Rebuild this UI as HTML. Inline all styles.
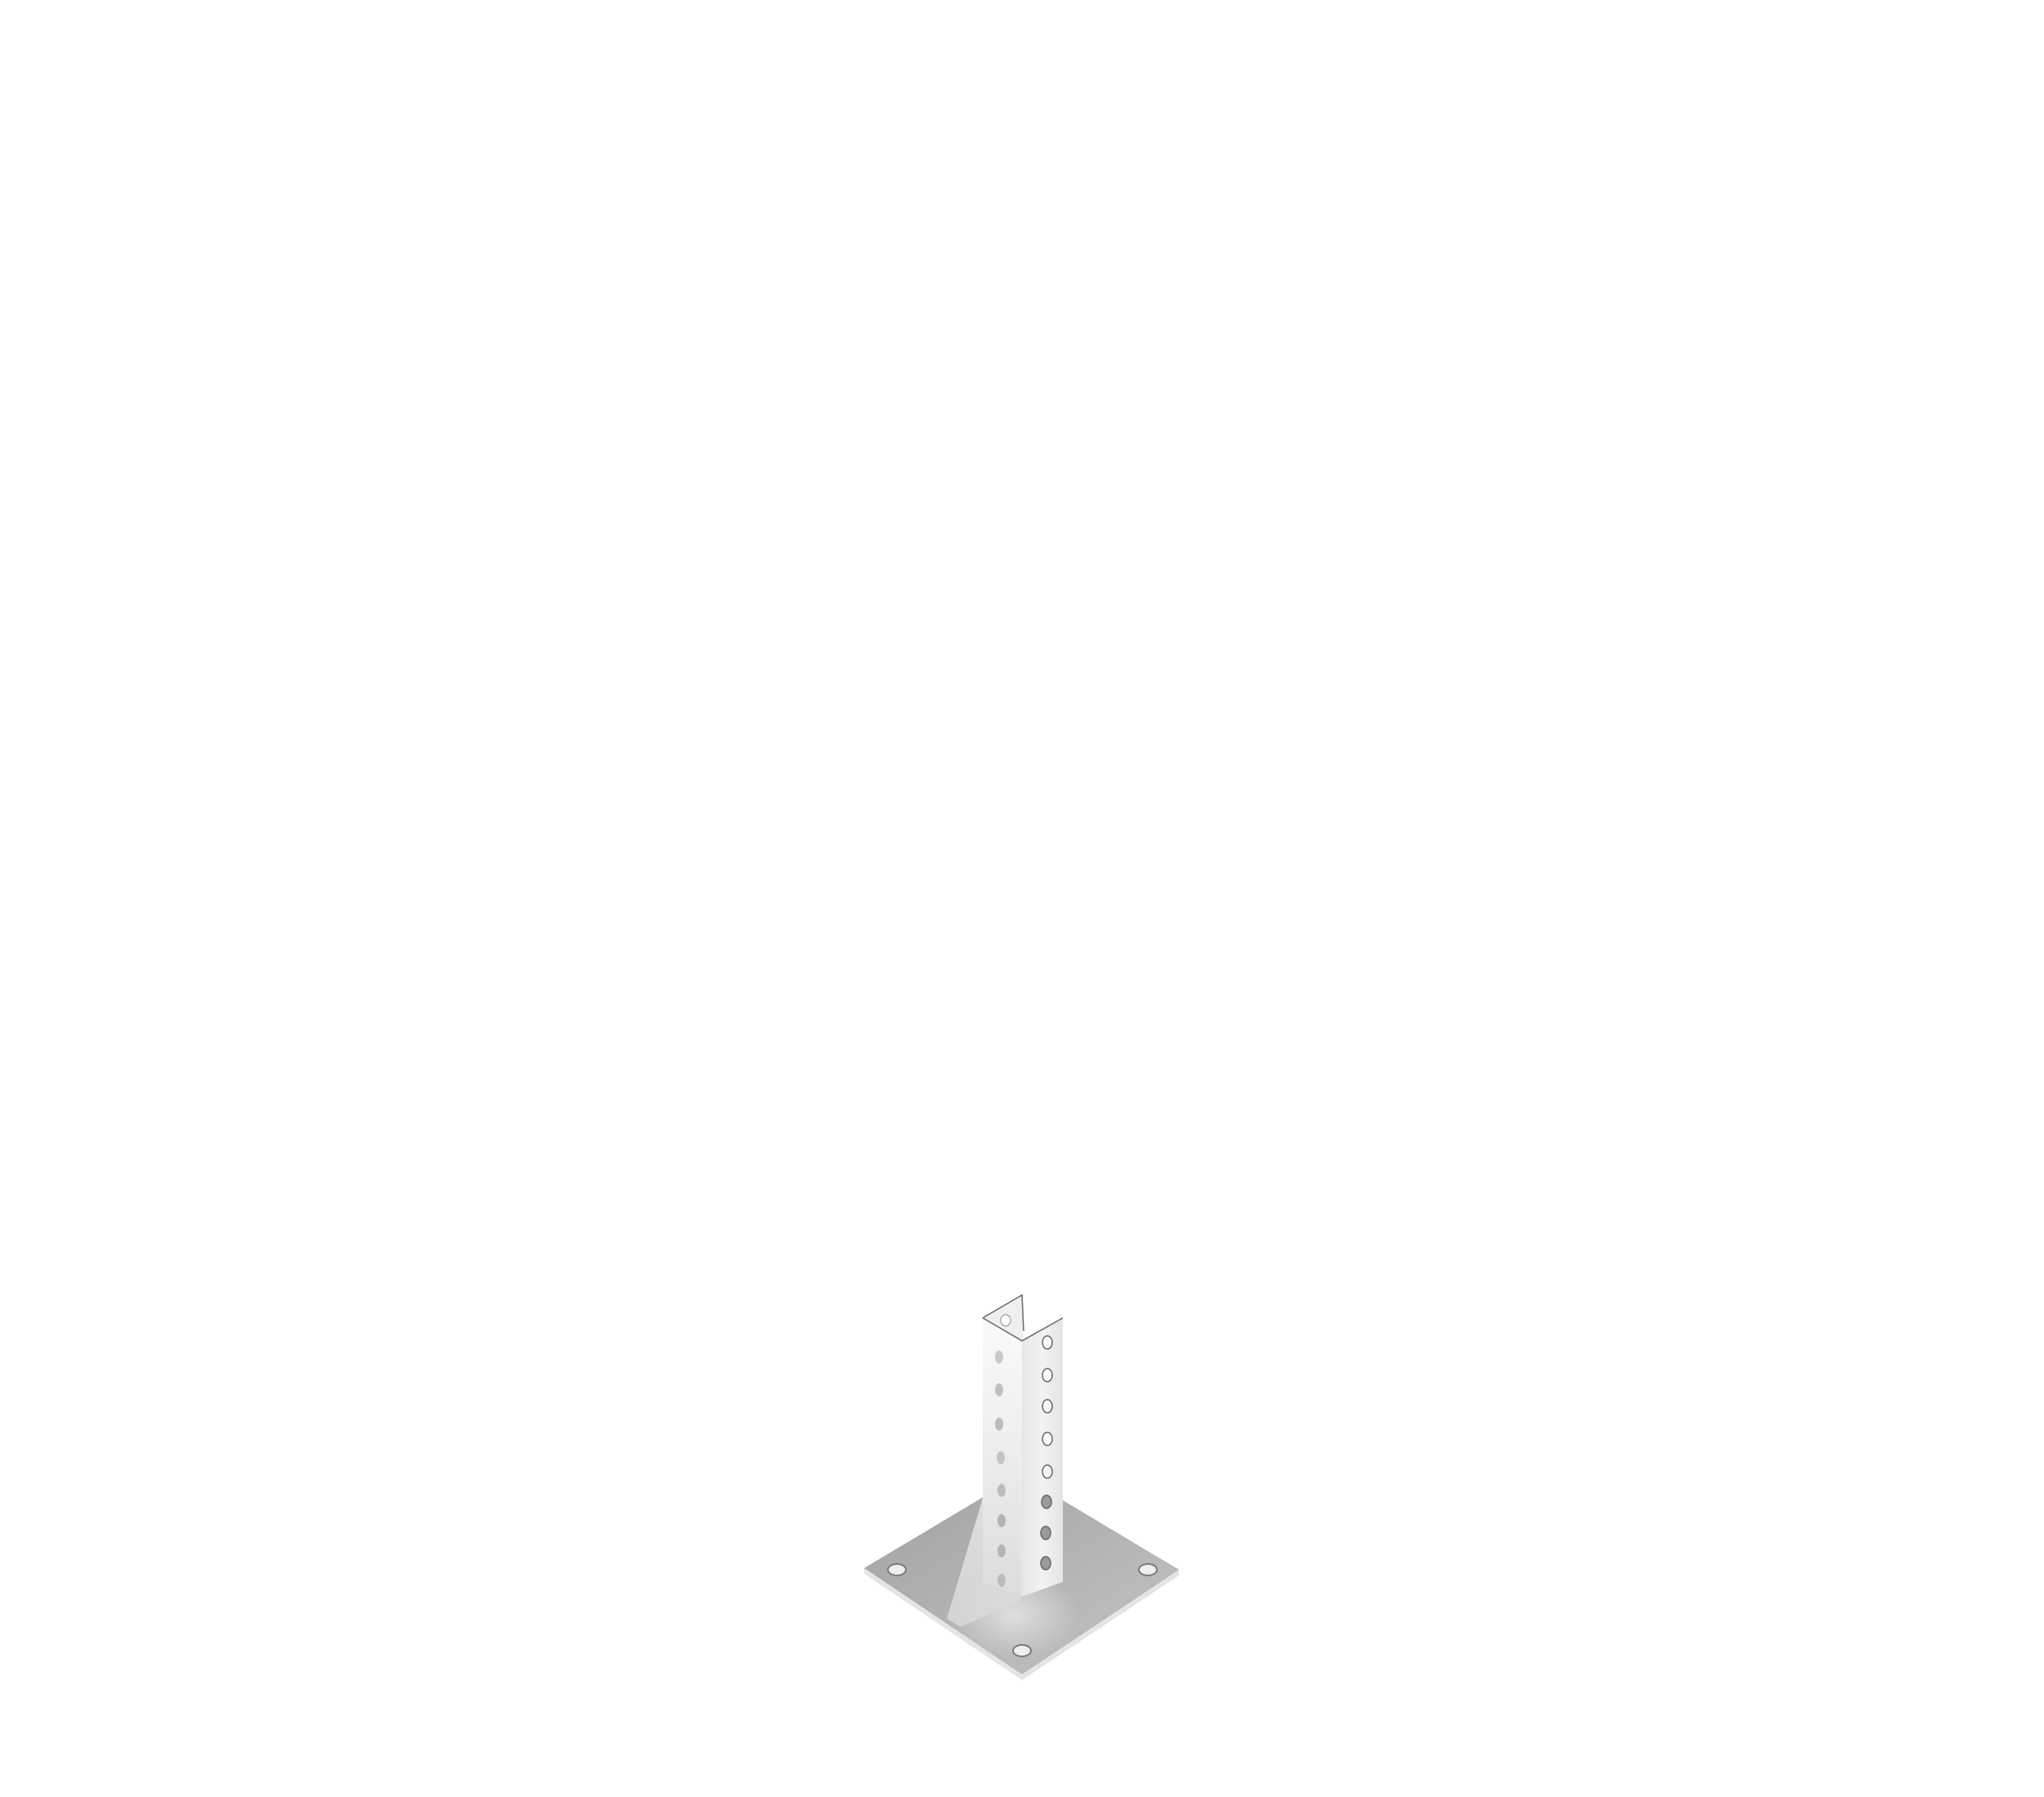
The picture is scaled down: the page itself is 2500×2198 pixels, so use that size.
<!DOCTYPE html>
<html><head><meta charset="utf-8"><style>
html,body{margin:0;padding:0;background:#fff;}
svg{display:block}
</style></head><body>
<svg width="2500" height="2198" viewBox="0 0 2500 2198" xmlns="http://www.w3.org/2000/svg">
<defs>
<linearGradient id="plate" x1="0" y1="0" x2="1" y2="1">
<stop offset="0" stop-color="#a2a2a2"/><stop offset="0.5" stop-color="#b2b2b2"/><stop offset="1" stop-color="#c4c4c4"/>
</linearGradient>
<linearGradient id="lf" x1="0" y1="0" x2="0" y2="1">
<stop offset="0" stop-color="#fafafa"/><stop offset="1" stop-color="#e0e0e0"/>
</linearGradient>
<linearGradient id="rf" x1="0" y1="0" x2="1" y2="0">
<stop offset="0" stop-color="#e6e6e6"/><stop offset="0.5" stop-color="#f2f2f2"/><stop offset="1" stop-color="#e4e4e4"/>
</linearGradient>
<linearGradient id="gus" x1="0" y1="0" x2="0" y2="1">
<stop offset="0" stop-color="#eeeeee"/><stop offset="1" stop-color="#d8d8d8"/>
</linearGradient>
<radialGradient id="hl" cx="0.5" cy="0.5" r="0.5">
<stop offset="0" stop-color="#e2e2e2" stop-opacity="0.95"/><stop offset="1" stop-color="#e2e2e2" stop-opacity="0"/>
</radialGradient>
</defs>
<!-- plate thickness -->
<polygon points="1057,1918 1250,2048 1442,1920 1442,1927 1250,2055 1057,1925" fill="#e4e4e4"/>
<!-- plate top -->
<polygon points="1057,1918 1248,1804 1442,1920 1250,2048" fill="url(#plate)"/>
<ellipse cx="1240" cy="1975" rx="80" ry="55" fill="url(#hl)"/>
<!-- plate holes -->
<ellipse cx="1097" cy="1920" rx="11" ry="7" fill="#efefef" stroke="#7a7a7a" stroke-width="2"/>
<ellipse cx="1404" cy="1920" rx="11" ry="7" fill="#efefef" stroke="#7a7a7a" stroke-width="2"/>
<ellipse cx="1250" cy="2019" rx="11" ry="7" fill="#efefef" stroke="#7a7a7a" stroke-width="2"/>
<!-- post left face -->
<polygon points="1202,1612 1250,1640 1250,1953 1202,1935" fill="url(#lf)"/>
<!-- inner back lip -->
<polygon points="1202,1612 1250,1584 1252,1636 1250,1640" fill="#efefef"/>
<polyline points="1202,1612 1250,1584 1252,1628" fill="none" stroke="#666" stroke-width="1.5"/>
<!-- post right face -->
<polygon points="1250,1640 1300,1612 1300,1935 1250,1953" fill="url(#rf)"/>
<polyline points="1202,1612 1250,1640 1300,1612" fill="none" stroke="#666" stroke-width="1.5"/>
<!-- gusset -->
<polygon points="1223,1762 1158,1980 1175,1990 1248,1958 1246,1800" fill="url(#gus)" opacity="0.85"/>
<!-- left face holes -->
<g fill="#a8a8a8">
<ellipse cx="1230" cy="1615" rx="6" ry="7" fill="#fff" stroke="#888" stroke-width="1"/>
<ellipse cx="1222" cy="1660" rx="5" ry="8" fill="#c8c8c8"/>
<ellipse cx="1222" cy="1700" rx="5" ry="8" fill="#c0c0c0"/>
<ellipse cx="1222" cy="1742" rx="5" ry="8" fill="#bcbcbc"/>
<ellipse cx="1224" cy="1783" rx="5" ry="8" fill="#c4c4c4"/>
<ellipse cx="1225" cy="1823" rx="5" ry="8" fill="#bcbcbc"/>
<ellipse cx="1225" cy="1860" rx="5" ry="8" fill="#b4b4b4"/>
<ellipse cx="1225" cy="1897" rx="5" ry="8" fill="#b4b4b4"/>
<ellipse cx="1225" cy="1933" rx="5" ry="8" fill="#bcbcbc"/>
</g>
<!-- right face holes -->
<g stroke="#666" stroke-width="1.5">
<ellipse cx="1281" cy="1642" rx="6" ry="8" fill="#fafafa"/>
<ellipse cx="1281" cy="1682" rx="6" ry="8" fill="#fafafa"/>
<ellipse cx="1281" cy="1720" rx="6" ry="8" fill="#fafafa"/>
<ellipse cx="1281" cy="1760" rx="6" ry="8" fill="#fafafa"/>
<ellipse cx="1281" cy="1800" rx="6" ry="8" fill="#f4f4f4"/>
<ellipse cx="1280" cy="1837" rx="6" ry="8" fill="#9a9a9a"/>
<ellipse cx="1279" cy="1875" rx="6" ry="8" fill="#9a9a9a"/>
<ellipse cx="1279" cy="1912" rx="6" ry="8" fill="#9a9a9a"/>
</g>
</svg>
</body></html>
